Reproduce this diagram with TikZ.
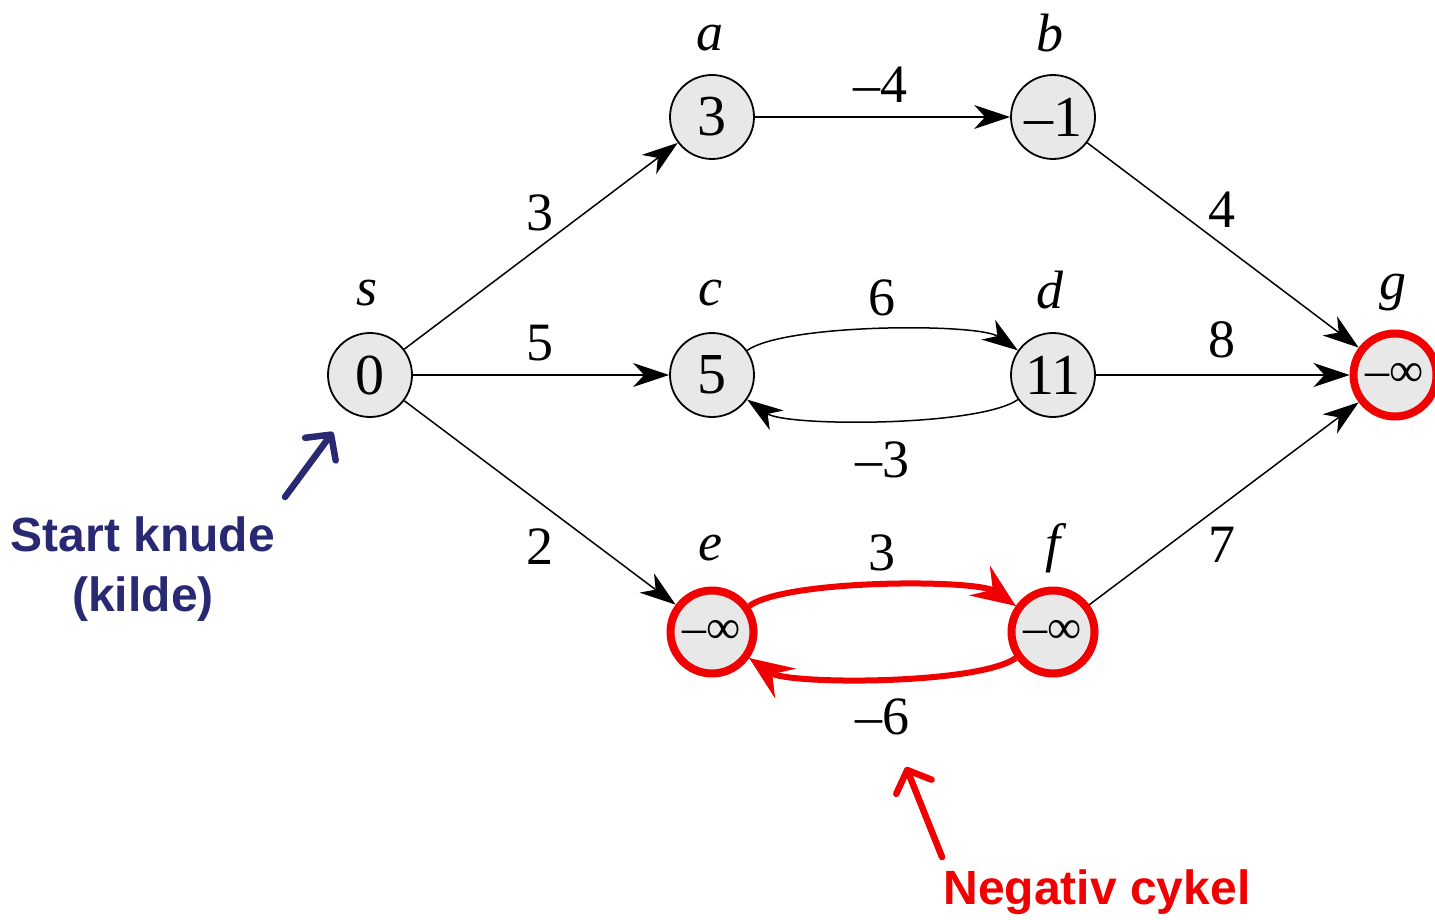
\documentclass[tikz,border=0pt]{standalone}
\usepackage{fontspec}
\setmainfont{Liberation Serif}
\newfontfamily\arialf{Liberation Sans}
\usetikzlibrary{arrows.meta}
\definecolor{navy}{RGB}{40,40,115}
\definecolor{myred}{RGB}{240,0,0}
\begin{document}
\begin{tikzpicture}[x=1pt,y=-1pt,
 vert/.style={circle,draw=black,line width=1.8pt,fill=black!9,minimum size=84pt,inner sep=0pt,font=\fontsize{58}{58}\selectfont},
 negv/.style={vert,draw=myred,line width=8pt,minimum size=83pt,font=\fontsize{48}{48}\selectfont},
 edge/.style={line width=1.5pt,-{Stealth[length=36pt,width=24pt,inset=11pt]}},
 redge/.style={line width=6pt,draw=myred,-{Stealth[length=44pt,width=36pt,inset=16pt]}},
 wlab/.style={inner sep=0pt,font=\fontsize{54}{54}\selectfont},
 nlab/.style={inner sep=0pt,font=\fontsize{54}{54}\selectfont\itshape},
 note/.style={align=center,font=\arialf\bfseries\fontsize{48}{60}\selectfont},
 pointer/.style={line width=6.5pt,line cap=round,-{Straight Barb[length=18pt,width=38pt,line cap=round,round]}}
]
\useasboundingbox (0,0) rectangle (1435,920);
% vertices
\node[vert] (s) at (370,375) {0};
\node[vert] (a) at (712,117) {3};
\node[vert] (b) at (1053,117) {–1};
\node[vert] (c) at (712,375) {5};
\node[vert] (d) at (1053,375) {11};
\node[negv] (e) at (712,632) {–∞};
\node[negv] (f) at (1053,632) {–∞};
\node[negv] (g) at (1395,375) {–∞};
% vertex names
\node[nlab] (ls) at (367,293) {s};
\node[nlab] (la) at (710,38) {a};
\node[nlab] (lb) at (1050,33) {b};
\node[nlab] (lc) at (710,293) {c};
\node[nlab] (ld) at (1050,290) {d};
\node[nlab] (lg) at (1393,293) {g};
\node[nlab] (le) at (710,548) {e};
\node[nlab] (lf) at (1053,548) {f};
% edges
\draw[edge] (s) -- (a);
\draw[edge] (s) -- (c);
\draw[edge] (s) -- (e);
\draw[edge] (a) -- (b);
\draw[edge] (b) -- (g);
\draw[edge] (d) -- (g);
\draw[edge] (f) -- (g);
\draw[edge] (c) to[out=35,in=145,looseness=0.45] (d);
\draw[edge] (d) to[out=-145,in=-35,looseness=0.45] (c);
\draw[edge] (e) to[out=35,in=145,looseness=0.45] (f);
\draw[edge] (f) to[out=-145,in=-35,looseness=0.45] (e);
\draw[redge] (e) to[out=35,in=145,looseness=0.45] (f);
\draw[redge] (f) to[out=-145,in=-35,looseness=0.45] (e);
% weights
\node[wlab] (w1) at (540,213) {3};
\node[wlab] (w2) at (540,343) {5};
\node[wlab] (w3) at (540,547) {2};
\node[wlab] (w4) at (880,85) {–4};
\node[wlab] (w5) at (1222,210) {4};
\node[wlab] (w6) at (882,298) {6};
\node[wlab] (w7) at (1222,340) {8};
\node[wlab] (w8) at (882,460) {–3};
\node[wlab] (w9) at (882,553) {3};
\node[wlab] (w10) at (1222,545) {7};
\node[wlab] (w11) at (882,717) {–6};
% annotations
\node[note,text=navy] (start) at (143,569) {Start knude\\(kilde)};
\coordinate (st0) at (285,497);
\coordinate (st1) at (333,432);
\draw[pointer,navy] (st0) -- (st1);
\node[note,text=myred] (neg) at (1097,892) {Negativ cykel};
\coordinate (ng0) at (942,857);
\coordinate (ng1) at (906,767);
\draw[pointer,myred] (ng0) -- (ng1);
\end{tikzpicture}
\end{document}
